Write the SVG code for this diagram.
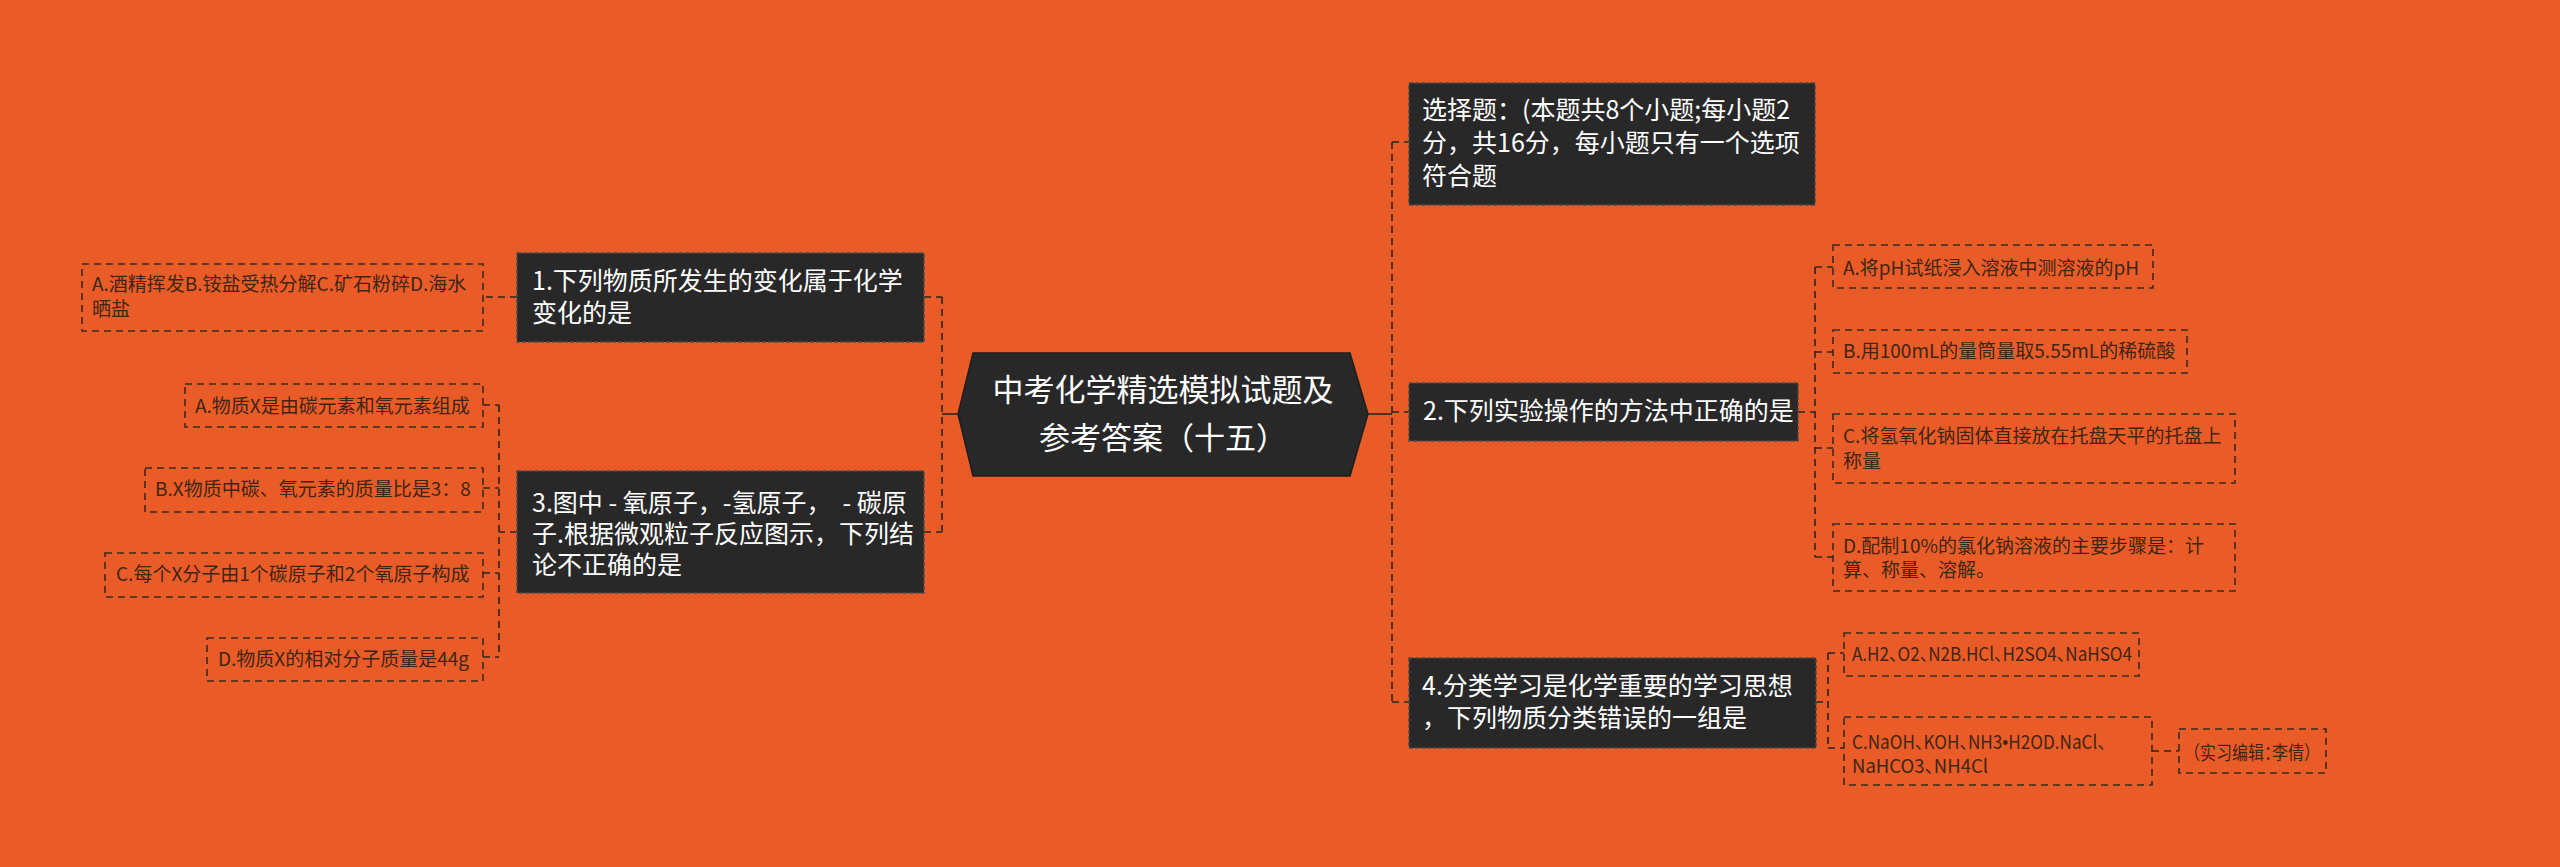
<svg xmlns="http://www.w3.org/2000/svg" width="2560" height="867" viewBox="0 0 2560 867">
<style>
.main{fill:#282828;stroke:#4a4a4a;stroke-width:1.5;stroke-dasharray:4 2}
.mt{font-family:"Noto Sans CJK SC","Noto Sans",sans-serif;font-size:25px;fill:#ffffff}
.leaf{fill:none;stroke:#3a2a20;stroke-width:1.6;stroke-dasharray:7 5}
.lt{font-family:"Noto Sans CJK SC","Noto Sans",sans-serif;font-size:19px;fill:#3e2516}
.halt{font-feature-settings:"halt"}
.ct{font-family:"Noto Sans CJK SC",sans-serif;font-size:31px;fill:#ffffff}
.conn{fill:none;stroke:#2e2420;stroke-width:1.6;stroke-dasharray:7 5}
</style>
<rect width="2560" height="867" fill="#EA5C27"/>
<g id="connectors">
<path d="M958 414 H942" fill="none" stroke="#2e2420" stroke-width="1.6"/>
<path class="conn" d="M942 297 V532 M924 297 H942 M924 532 H942"/>
<path class="conn" d="M517 297 H483"/>
<path class="conn" d="M517 532 H499 M499 405 V657 M483 405 H499 M483 488 H499 M483 573 H499 M483 657 H499"/>
<path d="M1368 414 H1392" fill="none" stroke="#2e2420" stroke-width="1.6"/>
<path class="conn" d="M1392 142 V702 M1392 142 H1409 M1392 412 H1409 M1392 702 H1409"/>
<path class="conn" d="M1798 412 H1815 M1815 267 V557 M1815 267 H1833 M1815 352 H1833 M1815 448 H1833 M1815 557 H1833"/>
<path class="conn" d="M1816 702 H1828 M1828 653 V748 M1828 653 H1844 M1828 748 H1844"/>
<path class="conn" d="M2152 751 H2179"/>
</g>
<g id="center">
<polygon points="973,353 1350,353 1368,414 1350,476 973,476 958,414" fill="#282828" stroke="#1e1e1e" stroke-width="1.5"/>
<text class="ct" x="1163" y="401" text-anchor="middle">中考化学精选模拟试题及</text>
<text class="ct" x="1163" y="449" text-anchor="middle">参考答案（十五）</text>
</g>
<g id="n-choice">
<rect class="main" x="1409" y="83" width="406" height="122"/>
<text class="mt" x="1422" y="119">选择题：(本题共8个小题;每小题2</text>
<text class="mt" x="1422" y="152">分，共16分，每小题只有一个选项</text>
<text class="mt" x="1422" y="185">符合题</text>
</g>
<g id="n1">
<rect class="main" x="517" y="253" width="407" height="89"/>
<text class="mt" x="532" y="290">1.下列物质所发生的变化属于化学</text>
<text class="mt" x="532" y="322">变化的是</text>
</g>
<g id="n1a">
<rect class="leaf" x="82" y="264" width="401" height="67"/>
<text class="lt" x="92" y="291">A.酒精挥发B.铵盐受热分解C.矿石粉碎D.海水</text>
<text class="lt" x="92" y="316">晒盐</text>
</g>
<g id="n3">
<rect class="main" x="517" y="471" width="407" height="122"/>
<text class="mt" x="532" y="512" xml:space="preserve">3.图中 - 氧原子，-氢原子，  - 碳原</text>
<text class="mt" x="532" y="543">子.根据微观粒子反应图示，下列结</text>
<text class="mt" x="532" y="574">论不正确的是</text>
</g>
<g id="n3a">
<rect class="leaf" x="185" y="384" width="298" height="43"/>
<text class="lt" x="195" y="413">A.物质X是由碳元素和氧元素组成</text>
</g>
<g id="n3b">
<rect class="leaf" x="145" y="468" width="338" height="44"/>
<text class="lt" x="155" y="496">B.X物质中碳、氧元素的质量比是3：8</text>
</g>
<g id="n3c">
<rect class="leaf" x="105" y="553" width="378" height="44"/>
<text class="lt" x="116" y="581">C.每个X分子由1个碳原子和2个氧原子构成</text>
</g>
<g id="n3d">
<rect class="leaf" x="207" y="638" width="276" height="43"/>
<text class="lt" x="218" y="666">D.物质X的相对分子质量是44g</text>
</g>
<g id="n2">
<rect class="main" x="1409" y="383" width="389" height="58"/>
<text class="mt" x="1423" y="420">2.下列实验操作的方法中正确的是</text>
</g>
<g id="n2a">
<rect class="leaf" x="1833" y="245" width="320" height="43"/>
<text class="lt" x="1843" y="275">A.将pH试纸浸入溶液中测溶液的pH</text>
</g>
<g id="n2b">
<rect class="leaf" x="1833" y="330" width="354" height="43"/>
<text class="lt" x="1843" y="358">B.用100mL的量筒量取5.55mL的稀硫酸</text>
</g>
<g id="n2c">
<rect class="leaf" x="1833" y="414" width="402" height="69"/>
<text class="lt" x="1843" y="443">C.将氢氧化钠固体直接放在托盘天平的托盘上</text>
<text class="lt" x="1843" y="468">称量</text>
</g>
<g id="n2d">
<rect class="leaf" x="1833" y="524" width="402" height="67"/>
<text class="lt" x="1843" y="553">D.配制10%的氯化钠溶液的主要步骤是：计</text>
<text class="lt" x="1843" y="577">算、称量、溶解。</text>
</g>
<g id="n4">
<rect class="main" x="1409" y="658" width="407" height="90"/>
<text class="mt" x="1422" y="695">4.分类学习是化学重要的学习思想</text>
<text class="mt" x="1422" y="727">，下列物质分类错误的一组是</text>
</g>
<g id="n4a">
<rect class="leaf" x="1844" y="633" width="295" height="43"/>
<text class="lt halt" x="1852" y="661" textLength="280" lengthAdjust="spacingAndGlyphs">A.H2、O2、N2B.HCl、H2SO4、NaHSO4</text>
</g>
<g id="n4c">
<rect class="leaf" x="1844" y="717" width="308" height="68"/>
<text class="lt halt" x="1852" y="749" textLength="254" lengthAdjust="spacingAndGlyphs">C.NaOH、KOH、NH3<tspan style="font-family:'Liberation Sans',sans-serif">•</tspan>H2OD.NaCl、</text>
<text class="lt halt" x="1852" y="773" textLength="136" lengthAdjust="spacingAndGlyphs">NaHCO3、NH4Cl</text>
</g>
<g id="editor">
<rect class="leaf" x="2179" y="729" width="147" height="44"/>
<text class="lt halt" x="2192" y="760" textLength="120" lengthAdjust="spacingAndGlyphs">（实习编辑：李倩）</text>
</g>
</svg>
